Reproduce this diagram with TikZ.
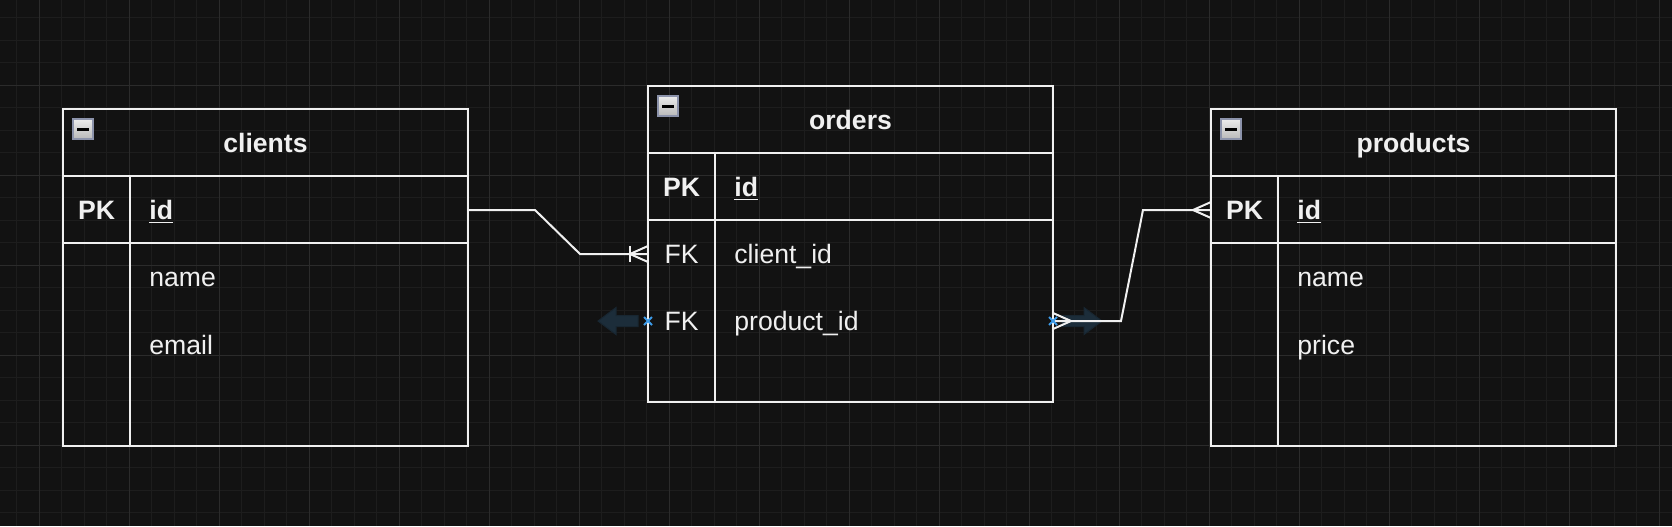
\documentclass[tikz,border=0pt]{standalone}
\usepackage{fontspec}
\setmainfont{Liberation Sans}
\usepackage{tikz}
\usetikzlibrary{positioning}
\definecolor{canvasColor}{HTML}{121212}
\definecolor{gridMinorColor}{HTML}{1D1D1D}
\definecolor{gridMajorColor}{HTML}{2B2B2B}
\definecolor{lineColor}{HTML}{F0F0F0}
\definecolor{toggleBorder}{HTML}{8C93AB}
\definecolor{hoverArrowColor}{HTML}{1C2D3A}
\definecolor{hoverMarkColor}{HTML}{3D9BE9}
\tikzstyle{diagram} = [x = 0.5pt, y = -0.5pt]
\tikzstyle{gridMinor} = [color=gridMinorColor, line width=.5pt]
\tikzstyle{gridMajor} = [color=gridMajorColor, line width=.5pt]
\tikzstyle{tableLine} = [color=lineColor, line width=1pt]
\tikzstyle{connLine} = [color=lineColor, line width=1pt]
\tikzstyle{baseText} = [text=lineColor, font=\fontsize{13.3}{16}\selectfont, inner sep=0pt, text height=9.5pt, text depth=0pt]
\tikzstyle{titleText} = [baseText, font=\fontsize{13.3}{16}\selectfont\bfseries]
\tikzstyle{keyText} = [baseText]
\tikzstyle{fieldText} = [baseText, anchor=west]
\tikzstyle{toggleStyle} = [draw=toggleBorder, line width=.75pt, top color=gray!15, bottom color=gray!55]
\tikzstyle{hoverStyle} = [fill=hoverArrowColor, draw=hoverArrowColor!85!black, line width=.5pt]
\newcommand{\tableFrame}[5]{
  \draw [tableLine] (#2, #3) rectangle + (405, #4);
  \draw [tableLine] (#2, #3 + 67) -- + (405, 0);
  \draw [tableLine] (#2, #3 + 134) -- + (405, 0);
  \draw [tableLine] (#2 + 67, #3 + 67) -- (#2 + 67, #3 + #4);
  \filldraw [toggleStyle] (#2 + 10, #3 + 10) rectangle + (20, 20);
  \draw [black, line width=1.5pt] (#2 + 14, #3 + 20) -- + (12, 0);
  \node [titleText] (#1-title) at (#2 + 202.5, #3 + 33.5) {#5};
}
\newcommand{\fieldRow}[6]{
  \node [keyText] (#1-#2-key) at (#3 + 33.5, #4) {#5};
  \node [fieldText] (#1-#2) at (#3 + 86, #4) {#6};
  \coordinate (#1-#2-w) at (#3, #4);
  \coordinate (#1-#2-e) at (#3 + 405, #4);
}
\newcommand{\crowFoot}[2]{\draw [connLine, shift={(#1)}] (#2 * 18, 0) -- (0, -8) (#2 * 18, 0) -- (0, 8);}
\newcommand{\hoverArrow}[2]{\filldraw [hoverStyle, shift={(#1)}, xscale=#2] (0, 0) -- (18, -13.5) -- (18, -5.5) -- (40, -5.5) -- (40, 5.5) -- (18, 5.5) -- (18, 13.5) -- cycle;}
\newcommand{\hoverMark}[1]{\draw [hoverMarkColor, line width=1pt, shift={(#1)}] (-4, -4) -- (4, 4) (-4, 4) -- (4, -4);}

\begin{document}
\begin{tikzpicture}[diagram]
  \useasboundingbox (0, 0) rectangle (1672, 526);
  \fill [canvasColor] (0, 0) rectangle (1672, 526);
  % grid
  \foreach \col in {-1,...,73} {
    \pgfmathsetmacro{\var}{39 + 22.5 * \col}
    \draw [gridMinor] (\var, 0) -- (\var, 526);
  }
  \foreach \row in {-3,...,19} {
    \pgfmathsetmacro{\var}{85 + 22.5 * \row}
    \draw [gridMinor] (0, \var) -- (1672, \var);
  }
  \foreach \col in {0,...,18} {
    \pgfmathsetmacro{\var}{39 + 90 * \col}
    \draw [gridMajor] (\var, 0) -- (\var, 526);
  }
  \foreach \row in {0,...,5} {
    \pgfmathsetmacro{\var}{85 + 90 * \row}
    \draw [gridMajor] (0, \var) -- (1672, \var);
  }
  % tables
  \tableFrame{clients}{63}{109}{337}{clients}
  \fieldRow{clients}{id}{63}{210}{\textbf{PK}}{\textbf{\underline{id}}}
  \fieldRow{clients}{name}{63}{277}{}{name}
  \fieldRow{clients}{email}{63}{344.5}{}{email}
  \tableFrame{orders}{648}{86}{316}{orders}
  \fieldRow{orders}{id}{648}{187}{\textbf{PK}}{\textbf{\underline{id}}}
  \fieldRow{orders}{client}{648}{254}{FK}{client\_id}
  \fieldRow{orders}{product}{648}{321}{FK}{product\_id}
  \tableFrame{products}{1211}{109}{337}{products}
  \fieldRow{products}{id}{1211}{210}{\textbf{PK}}{\textbf{\underline{id}}}
  \fieldRow{products}{name}{1211}{277}{}{name}
  \fieldRow{products}{price}{1211}{344.5}{}{price}
  % hover hints
  \hoverArrow{[xshift=-25pt]orders-product-w}{1}
  \hoverArrow{[xshift=24.5pt]orders-product-e}{-1}
  % relations
  \draw [connLine] (clients-id-e) -- ++(67, 0) -- ([xshift=-34pt]orders-client-w) -- (orders-client-w);
  \crowFoot{orders-client-w}{-1}
  \draw [connLine, shift={(orders-client-w)}] (-18, -8) -- (-18, 8);
  \draw [connLine] (orders-product-e) -- ++(68, 0) -- ([xshift=-34pt]products-id-w) -- (products-id-w);
  \crowFoot{orders-product-e}{1}
  \crowFoot{products-id-w}{-1}
  \hoverMark{orders-product-w}
  \hoverMark{orders-product-e}
\end{tikzpicture}
\end{document}
